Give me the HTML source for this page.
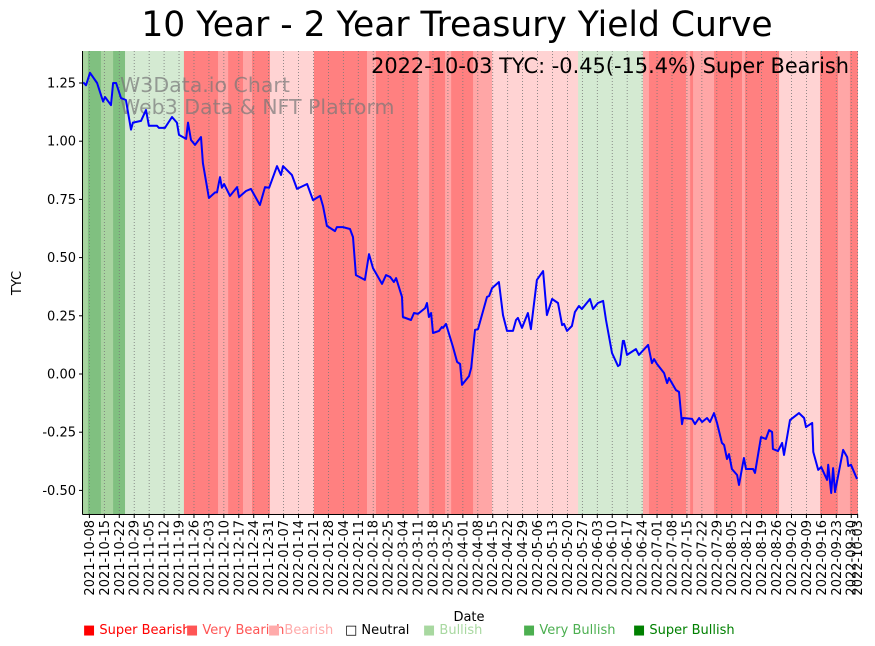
<!DOCTYPE html>
<html><head><meta charset="utf-8"><style>
body{margin:0;background:#fff;font-family:"DejaVu Sans","Liberation Sans",sans-serif}
svg{display:block;font-family:"DejaVu Sans","Liberation Sans",sans-serif}
</style></head><body>
<svg id="chart" width="875" height="646" xmlns="http://www.w3.org/2000/svg">
<text x="457" y="36" font-size="34.5" text-anchor="middle">10 Year - 2 Year Treasury Yield Curve</text>
<g id="bands"></g>
<g id="grid"></g>
<text x="120" y="92" font-size="20.5" fill="#777" fill-opacity="0.7">W3Data.io Chart</text>
<text x="120" y="114" font-size="20.5" fill="#777" fill-opacity="0.7">Web3 Data &amp; NFT Platform</text>
<path id="line" fill="none" stroke="#0000ff" stroke-width="2" stroke-linejoin="round"/>
<text x="849" y="73" font-size="20.9" text-anchor="end">2022-10-03 TYC: -0.45(-15.4%) Super Bearish</text>
<g id="yaxis"></g>
<g id="xaxis"></g>
<line x1="82.5" y1="51" x2="82.5" y2="514.5" stroke="#000"/>
<line x1="82.5" y1="514.5" x2="857.5" y2="514.5" stroke="#000"/>
<text transform="translate(21,283) rotate(-90)" font-size="13" text-anchor="middle">TYC</text>
<text x="469" y="621" font-size="13" text-anchor="middle">Date</text>
<g font-size="13">
<text x="83" y="634" fill="#ff0000">■ Super Bearish</text>
<text x="186" y="634" fill="#ff5555">■ Very Bearish</text>
<text x="268" y="634" fill="#ffaaaa">■ Bearish</text>
<text x="345" y="634" fill="#000">□ Neutral</text>
<text x="423" y="634" fill="#a8d8a0">■ Bullish</text>
<text x="523" y="634" fill="#4caf50">■ Very Bullish</text>
<text x="633" y="634" fill="#008000">■ Super Bullish</text>
</g>
</svg>
<script>
// days since 2021-10-05
const days=[0.1,1.4,3.3,6.6,9.4,10.3,13.1,14.1,15.5,17.8,20.1,22.5,23.4,27.2,29.5,30.9,34.7,35.6,38.4,41.7,44.0,45.0,48.3,49.2,50.6,52.5,55.3,56.2,59.0,61.9,62.8,64.2,65.1,66.1,68.9,72.2,73.1,76.4,78.7,82.9,85.3,87.2,90.9,92.8,93.7,97.9,100.3,105.0,107.8,111.1,112.5,114.3,118.1,119.0,121.8,125.1,126.5,127.9,132.1,134.0,135.9,140.1,142.0,143.9,145.7,146.7,149.5,149.9,153.7,155.1,157.0,160.3,161.2,162.1,163.1,164.0,166.8,168.2,168.7,170.1,173.4,175.3,176.7,177.6,180.9,181.9,183.7,185.1,189.3,190.3,191.7,194.9,196.8,198.7,201.5,202.9,203.8,205.7,208.5,209.9,212.7,215.6,217.4,219.8,222.6,224.5,225.4,226.8,229.1,230.5,232.4,233.8,237.6,239.0,241.3,243.7,245.1,247.9,250.7,251.6,253.0,253.5,254.9,259.1,260.5,264.8,266.6,267.6,269.0,272.3,273.7,274.6,277.9,279.3,280.7,281.2,285.4,286.8,288.7,290.1,292.4,293.8,295.7,297.1,299.4,300.4,301.8,302.7,304.1,306.5,307.4,309.7,310.7,314.0,314.9,317.7,320.0,321.5,322.9,323.3,325.7,327.6,328.5,331.3,335.5,337.9,338.8,341.7,342.2,344.5,345.9,348.7,349.2,350.6,351.5,352.4,356.2,358.1,358.6,359.9,362.7];
const values=[1.253,1.24,1.294,1.25,1.17,1.19,1.155,1.25,1.25,1.185,1.177,1.05,1.08,1.087,1.134,1.066,1.066,1.057,1.057,1.104,1.08,1.027,1.01,1.08,1.005,0.984,1.018,0.906,0.756,0.78,0.78,0.846,0.80,0.816,0.765,0.803,0.76,0.786,0.795,0.726,0.803,0.80,0.893,0.855,0.893,0.855,0.795,0.816,0.747,0.765,0.72,0.636,0.614,0.631,0.631,0.623,0.588,0.425,0.404,0.515,0.455,0.387,0.425,0.417,0.395,0.412,0.331,0.245,0.232,0.262,0.258,0.283,0.305,0.245,0.262,0.176,0.185,0.202,0.198,0.215,0.116,0.052,0.043,-0.047,-0.009,0.026,0.189,0.193,0.331,0.335,0.369,0.395,0.253,0.185,0.185,0.232,0.241,0.198,0.262,0.193,0.404,0.442,0.253,0.322,0.305,0.21,0.215,0.185,0.206,0.266,0.292,0.279,0.322,0.279,0.305,0.314,0.232,0.09,0.034,0.04,0.142,0.142,0.082,0.107,0.082,0.125,0.047,0.064,0.043,0.004,-0.039,-0.017,-0.069,-0.077,-0.215,-0.189,-0.193,-0.215,-0.189,-0.206,-0.189,-0.206,-0.168,-0.21,-0.296,-0.305,-0.365,-0.344,-0.408,-0.434,-0.477,-0.361,-0.408,-0.408,-0.425,-0.271,-0.279,-0.241,-0.249,-0.322,-0.331,-0.296,-0.348,-0.198,-0.168,-0.189,-0.228,-0.21,-0.335,-0.412,-0.4,-0.455,-0.39,-0.511,-0.404,-0.507,-0.326,-0.357,-0.395,-0.39,-0.451];
const bandStart=[0,2.3,8.4,14.1,19.7,47.3,63.3,68,75,79.2,87.6,108.2,133.1,137.3,157,162.2,169.7,172.5,182.8,191.7,232,262.4,265.2,282.6,284.5,285.9,295.7,308.8,310.2,326.2,345.4,353.8,359.4];
const bandLevel=[2,3,2,3,1,-3,-2,-3,-2,-3,-1,-3,-2,-3,-2,-3,-2,-3,-2,-1,1,-2,-3,-2,-3,-2,-3,-2,-3,-1,-3,-2,-3];
const yTicks=[-0.5,-0.25,0,0.25,0.5,0.75,1.0,1.25];
const tickDays=[];for(let d=3;d<=360;d+=7)tickDays.push(d);tickDays.push(363);
const NS="http://www.w3.org/2000/svg";
const X=d=>83+d*2.134, Y=v=>374-v*232.8;
const colors={"-3":"#ff8080","-2":"#ffa6a6","-1":"#ffd3d3","1":"#d4ead2","2":"#a8d4a0","3":"#80c080"};
function mk(tag,attrs,parent){const e=document.createElementNS(NS,tag);for(const k in attrs)e.setAttribute(k,attrs[k]);parent.appendChild(e);return e;}
const bands=document.getElementById('bands');
bandStart.forEach((s,i)=>{const e=i<bandStart.length-1?bandStart[i+1]:363;
 const r=mk('rect',{x:X(s),y:51,width:X(e)-X(s)+0.3,height:463.5,fill:colors[bandLevel[i]]},bands);
 
 });
const grid=document.getElementById('grid'),xa=document.getElementById('xaxis');
const base=new Date(Date.UTC(2021,9,5));
tickDays.forEach(d=>{const x=X(d);
 const g=mk('line',{x1:x,y1:51,x2:x,y2:514,stroke:'#777','stroke-width':0.8,'stroke-dasharray':'1,2'},grid);
 
 
 mk('line',{x1:x,y1:514,x2:x,y2:518,stroke:'#000'},xa);
 const dt=new Date(base.getTime()+d*86400000).toISOString().slice(0,10);
 const t=mk('text',{transform:`translate(${x+4.5},520) rotate(-90)`,'font-size':13,'text-anchor':'end'},xa);
 t.textContent=dt;
 
 });
const ya=document.getElementById('yaxis');
yTicks.forEach(v=>{const y=Y(v);
 mk('line',{x1:79,y1:y,x2:83,y2:y,stroke:'#000'},ya);
 const t=mk('text',{x:76,y:y+4.5,'font-size':13,'text-anchor':'end'},ya);
 t.textContent=v.toFixed(2);
 
 });
document.getElementById('line').setAttribute('d',days.map((d,i)=>(i?'L':'M')+X(d).toFixed(1)+','+Y(values[i]).toFixed(1)).join(''));
</script>
</body></html>
